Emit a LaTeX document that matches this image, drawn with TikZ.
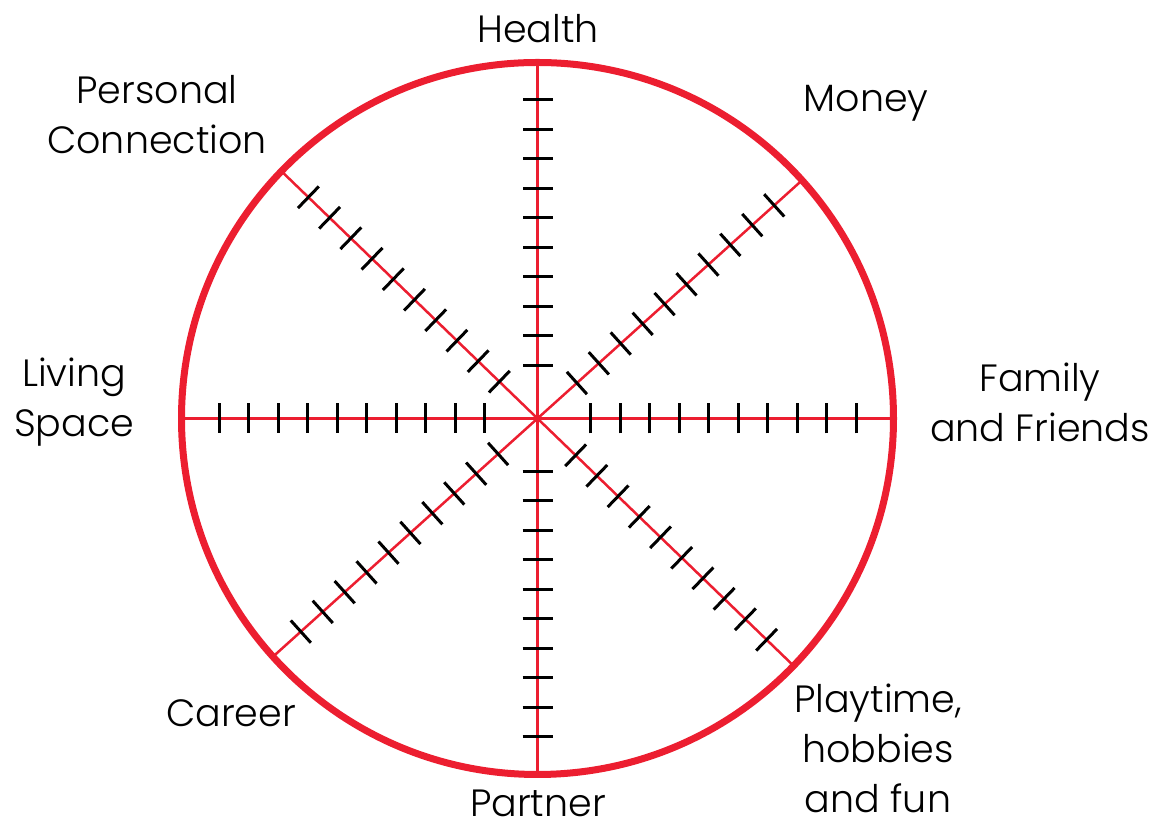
\documentclass[tikz,border=0pt]{standalone}
\usepackage{fontspec}
\setmainfont{Poppins}[UprightFont=* Light]
\usetikzlibrary{calc}
\definecolor{wheelred}{RGB}{236,30,48}
\tikzset{
  rim/.style={draw=wheelred, line width=7pt},
  spoke/.style={draw=wheelred, line width=2.5pt},
  tickmark/.style={draw=black, line width=3pt},
  lbl/.style={inner sep=0pt, align=center, font=\fontsize{38}{50}\selectfont, text=black}
}
\begin{document}
\begin{tikzpicture}[x=1pt,y=1pt]
\useasboundingbox (0,0) rectangle (1160,829);
\coordinate (O) at (537.5,410.5);
\draw[rim] (O) circle (356);
\foreach \a in {0,42,90,136,180,222,270,316}{
  \coordinate (E\a) at ($(O)+(\a:356)$);
  \draw[spoke] (O) -- (E\a);
  \foreach \i in {0,...,9}{
    \pgfmathsetmacro{\d}{53+29.5*\i}
    \begin{scope}[shift={(O)}, rotate=\a]
      \draw[tickmark] (\d,-15) -- (\d,15);
    \end{scope}
  }
}
\node[lbl] (health) at (538,800) {Health};
\node[lbl] (money) at (866,726) {Money};
\node[lbl] (personal) at (157,714) {Personal\\Connection};
\node[lbl] (living) at (74,427) {Living\\Space};
\node[lbl] (family) at (1040,427) {Family\\and Friends};
\node[lbl] (career) at (231,116) {Career};
\node[lbl] (partner) at (538,26) {Partner};
\node[lbl] (play) at (878,81) {Playtime,\\hobbies\\and fun};
\end{tikzpicture}
\end{document}
